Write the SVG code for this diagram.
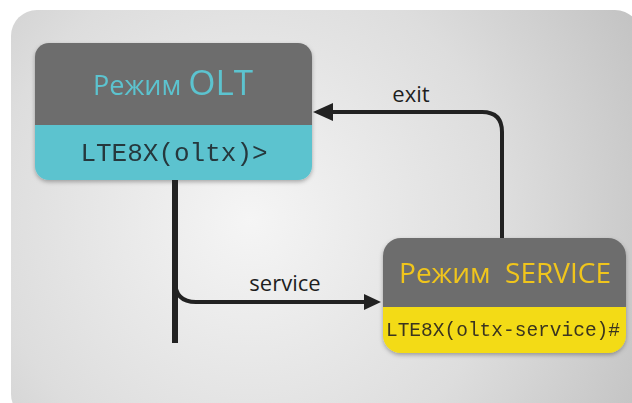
<svg xmlns="http://www.w3.org/2000/svg" width="632" height="403" viewBox="0 0 632 403">
<defs>
<radialGradient id="bg" cx="250" cy="220" r="430" gradientUnits="userSpaceOnUse">
<stop offset="0" stop-color="#f5f5f5"/>
<stop offset="0.6" stop-color="#dddddd"/>
<stop offset="1" stop-color="#c4c4c4"/>
</radialGradient>
<filter id="sh" x="-10%" y="-10%" width="120%" height="130%">
<feDropShadow dx="0" dy="2" stdDeviation="2" flood-color="#000" flood-opacity="0.3"/>
</filter>
<clipPath id="c1"><rect x="35" y="43" width="277" height="137" rx="14"/></clipPath>
<clipPath id="c2"><rect x="383" y="238" width="243" height="115" rx="18"/></clipPath>
</defs>
<style>
.title{font-family:"Open Sans","Liberation Sans",sans-serif;}
.mono{font-family:"Liberation Mono","Courier New",monospace;}
.lbl{font-family:"Open Sans","Liberation Sans",sans-serif;font-size:22px;fill:#1e1e1e;}
.ln{fill:none;stroke:#222;stroke-width:4;}
.ah{fill:#222;}
</style>
<rect width="632" height="403" fill="#ffffff"/>
<rect x="11" y="10" width="630" height="410" rx="26" fill="url(#bg)"/>

<g id="node-olt" filter="url(#sh)">
<g clip-path="url(#c1)">
<rect x="35" y="43" width="277" height="82" fill="#6d6d6d"/>
<rect x="35" y="125" width="277" height="55" fill="#5cc3cf"/>
</g>
<text class="title" x="173" y="95" text-anchor="middle" fill="#5cc3cf"><tspan font-size="27">Режим </tspan><tspan font-size="35">OLT</tspan></text>
<text class="mono" x="174" y="161" text-anchor="middle" font-size="26" fill="#26383d">LTE8X(oltx)&gt;</text>
</g>

<g id="node-service" filter="url(#sh)">
<g clip-path="url(#c2)">
<rect x="383" y="238" width="243" height="69" fill="#6d6d6d"/>
<rect x="383" y="307" width="243" height="46" fill="#f3db14"/>
</g>
<text class="title" x="505" y="283" text-anchor="middle" font-size="28" fill="#f0c51c" xml:space="preserve">Режим  SERVICE</text>
<text class="mono" x="503" y="336" text-anchor="middle" font-size="19.5" fill="#3a3420">LTE8X(oltx-service)#</text>
</g>

<g id="connectors">
<line x1="175" y1="180" x2="175" y2="343" stroke="#222" stroke-width="6"/>
<path class="ln" d="M175,281 Q175,302 196,302 L367,302"/>
<polygon class="ah" points="381,302 364,294 364,310"/>
<path class="ln" d="M502,238 L502,132 Q502,112 482,112 L330,112"/>
<polygon class="ah" points="313,112 333,103 333,121"/>
<text class="lbl" x="411" y="102" text-anchor="middle">exit</text>
<text class="lbl" x="285" y="291" text-anchor="middle">service</text>
</g>
</svg>
